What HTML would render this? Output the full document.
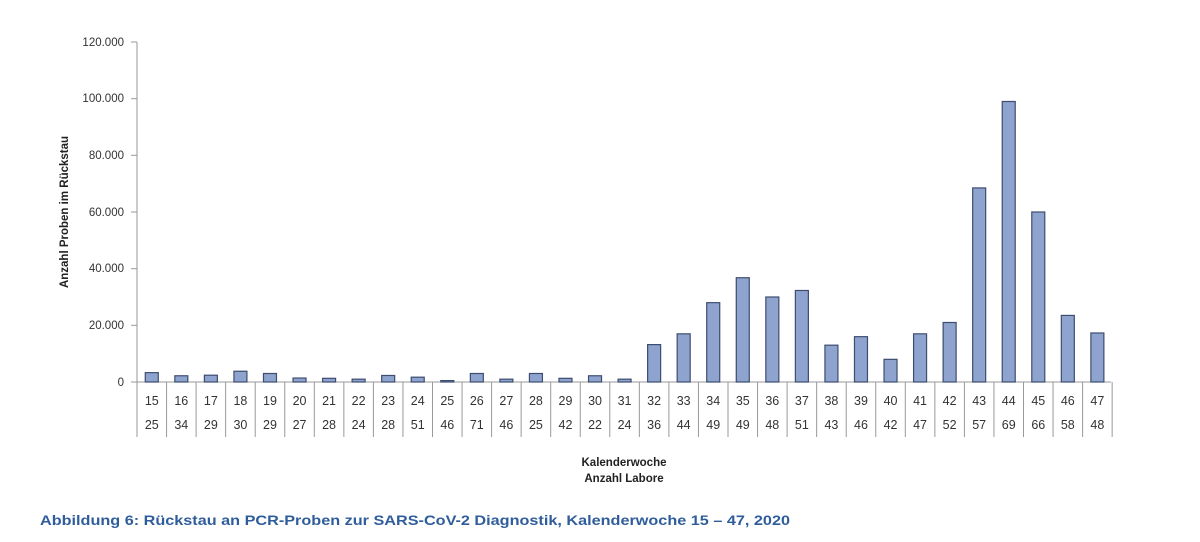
<!DOCTYPE html><html><head><style>body{margin:0;background:#fff}svg text{font-family:"Liberation Sans",sans-serif}</style></head><body>
<svg width="1200" height="537" xmlns="http://www.w3.org/2000/svg" id="s">
<g font-size="11.5" fill="#333" text-anchor="end">
<text x="124" y="46">120.000</text><text x="124" y="102">100.000</text><text x="124" y="159">80.000</text><text x="124" y="216">60.000</text><text x="124" y="272">40.000</text><text x="124" y="329">20.000</text><text x="124" y="386">0</text>
</g>
<g stroke="#999" stroke-width="1">
<line x1="137" y1="42" x2="137" y2="437"/><line x1="131" y1="42" x2="137" y2="42"/><line x1="131" y1="98.7" x2="137" y2="98.7"/><line x1="131" y1="155.3" x2="137" y2="155.3"/><line x1="131" y1="212" x2="137" y2="212"/><line x1="131" y1="268.7" x2="137" y2="268.7"/><line x1="131" y1="325.3" x2="137" y2="325.3"/><line x1="131" y1="382" x2="1111" y2="382"/>
</g>
<text transform="translate(68,212) rotate(-90)" text-anchor="middle" font-size="11.5" font-weight="bold" fill="#222">Anzahl Proben im Rückstau</text>
<g id="bars"></g>
<text x="624" y="466" text-anchor="middle" font-size="11.5" font-weight="bold" fill="#222">Kalenderwoche</text>
<text x="624" y="482" text-anchor="middle" font-size="11.5" font-weight="bold" fill="#222">Anzahl Labore</text>
<text x="40" y="525" font-size="14" font-weight="bold" fill="#2f5d9b" textLength="750" lengthAdjust="spacingAndGlyphs">Abbildung 6: Rückstau an PCR-Proben zur SARS-CoV-2 Diagnostik, Kalenderwoche 15 – 47, 2020</text>
</svg>
<script>
var v=[3300,2200,2400,3800,3000,1400,1300,1000,2300,1700,500,3000,1000,3000,1300,2200,1000,13200,17000,28000,36800,30000,32300,13000,16000,8000,17000,21000,68500,99000,60000,23500,17300];
var l=[25,34,29,30,29,27,28,24,28,51,46,71,46,25,42,22,24,36,44,49,49,48,51,43,46,42,47,52,57,69,66,58,48];
var s='',w=29.55;
for(var i=0;i<33;i++){var c=137+w*(i+.5),h=v[i]/120000*340;
s+='<rect x="'+(c-6.5)+'" y="'+(382-h)+'" width="13" height="'+h+'" fill="#8fa3cf" stroke="#3d4d70" stroke-width="1.2"/>';
s+='<line x1="'+(137+w*(i+1))+'" y1="382" x2="'+(137+w*(i+1))+'" y2="437" stroke="#999"/>';
s+='<text x="'+c+'" y="405" text-anchor="middle" font-size="12.5" fill="#333">'+(15+i)+'</text>';
s+='<text x="'+c+'" y="429" text-anchor="middle" font-size="12.5" fill="#333">'+l[i]+'</text>';}
document.getElementById('bars').innerHTML=s;
</script>
</body></html>
